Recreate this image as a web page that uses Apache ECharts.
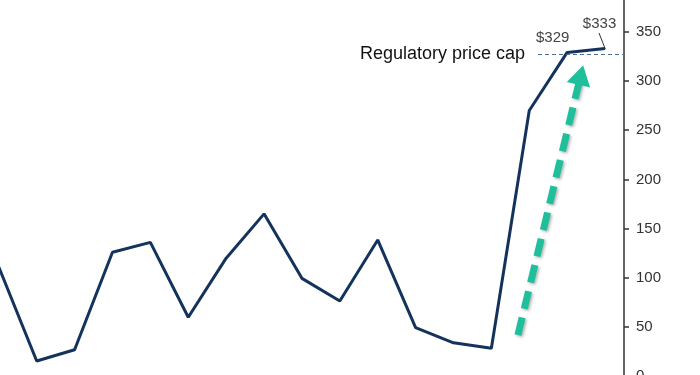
<!DOCTYPE html>
<html>
<head>
<meta charset="utf-8">
<script src="https://cdn.jsdelivr.net/npm/echarts@6/dist/echarts.min.js"></script>
<style>html,body{margin:0;padding:0;background:#fff}#c{width:700px;height:375px}</style>
</head>
<body>
<div id="c"></div>
<script>
// Data (index-based periods; the x axis carries no labels in the reference)
var periods = [0,1,2,3,4,5,6,7,8,9,10,11,12,13,14,15,16];
var prices = [111,15.5,27,126,136,60,120,165,99.5,76.5,138.5,49.5,34,28.5,270,329,333];
var yTicks = [0,50,100,150,200,250,300,350];
var capValue = 327.5;
var capLabel = 'Regulatory price cap';
var arrowFrom = [13.70, 42];
var arrowTo = [15.36, 306];
var leaderFrom = [16, 333];
var leaderTo = [15.84, 348.7];

var chart = echarts.init(document.getElementById('c'), null, {renderer:'canvas'});
var FONT = '"Liberation Sans", Arial, sans-serif';
var lineData = periods.map(function(p,i){
  var d = {value:[p, prices[i]]};
  if (i === periods.length-2) {
    d.label = {show:true, position:[-14, -14], align:'center', verticalAlign:'middle', formatter:'$' + prices[i]};
  } else if (i === periods.length-1) {
    d.label = {show:true, position:[-5, -24], align:'center', verticalAlign:'middle', formatter:'$' + prices[i]};
  }
  return d;
});
chart.setOption({
  animation:false,
  backgroundColor:'#fff',
  grid:{left:-1.2, right:76, top:-17.5, bottom:-1.3, containLabel:false, outerBoundsMode:'none'},
  xAxis:{type:'value', min:0, max:16.5, show:false, splitLine:{show:false}},
  yAxis:{type:'value', position:'right', min:0, max:400, interval:50,
    axisLine:{show:true, onZero:false, lineStyle:{color:'#333', width:1.5}},
    axisTick:{show:true, inside:false, length:5, lineStyle:{color:'#333', width:1.5}},
    splitLine:{show:false},
    axisLabel:{margin:12, fontSize:15, color:'#333', fontFamily:FONT,
      formatter:function(v){return yTicks.indexOf(v) >= 0 ? String(v) : '';}}
  },
  series:[
    {type:'line', data:lineData, symbol:'circle', symbolSize:1, showSymbol:true, clip:false,
      lineStyle:{color:'#13335c', width:3}, itemStyle:{color:'#13335c'},
      label:{fontSize:15, color:'#444', fontFamily:FONT},
      labelLayout:{hideOverlap:false},
      z:3
    },
    {type:'line', data:[], markLine:{silent:true, symbol:['none','none'], animation:false,
      lineStyle:{type:[4,3], color:'#4a6f97', width:1},
      label:{show:true, position:'start', distance:13, formatter:capLabel, fontSize:18, color:'#111', fontFamily:FONT},
      data:[[{coord:[14.23, capValue]},{coord:[16.5, capValue]}]]}
    },
    {type:'line', data:[], markLine:{silent:true, symbol:['none','none'], animation:false,
      lineStyle:{type:'solid', color:'#333', width:1},
      label:{show:false},
      data:[[{coord:leaderFrom},{coord:leaderTo}]]}
    },
    {type:'line', data:[], z:5, markLine:{silent:true, symbol:['none','triangle'], symbolSize:[24,20], animation:false,
      lineStyle:{type:[18,9], color:'#1fbf9b', width:7, shadowBlur:3, shadowColor:'rgba(0,0,0,0.3)', shadowOffsetX:1.5, shadowOffsetY:1.5},
      itemStyle:{color:'#1fbf9b'},
      label:{show:false},
      data:[[{coord:arrowFrom},{coord:arrowTo}]]}
    }
  ]
});
</script>
</body>
</html>
